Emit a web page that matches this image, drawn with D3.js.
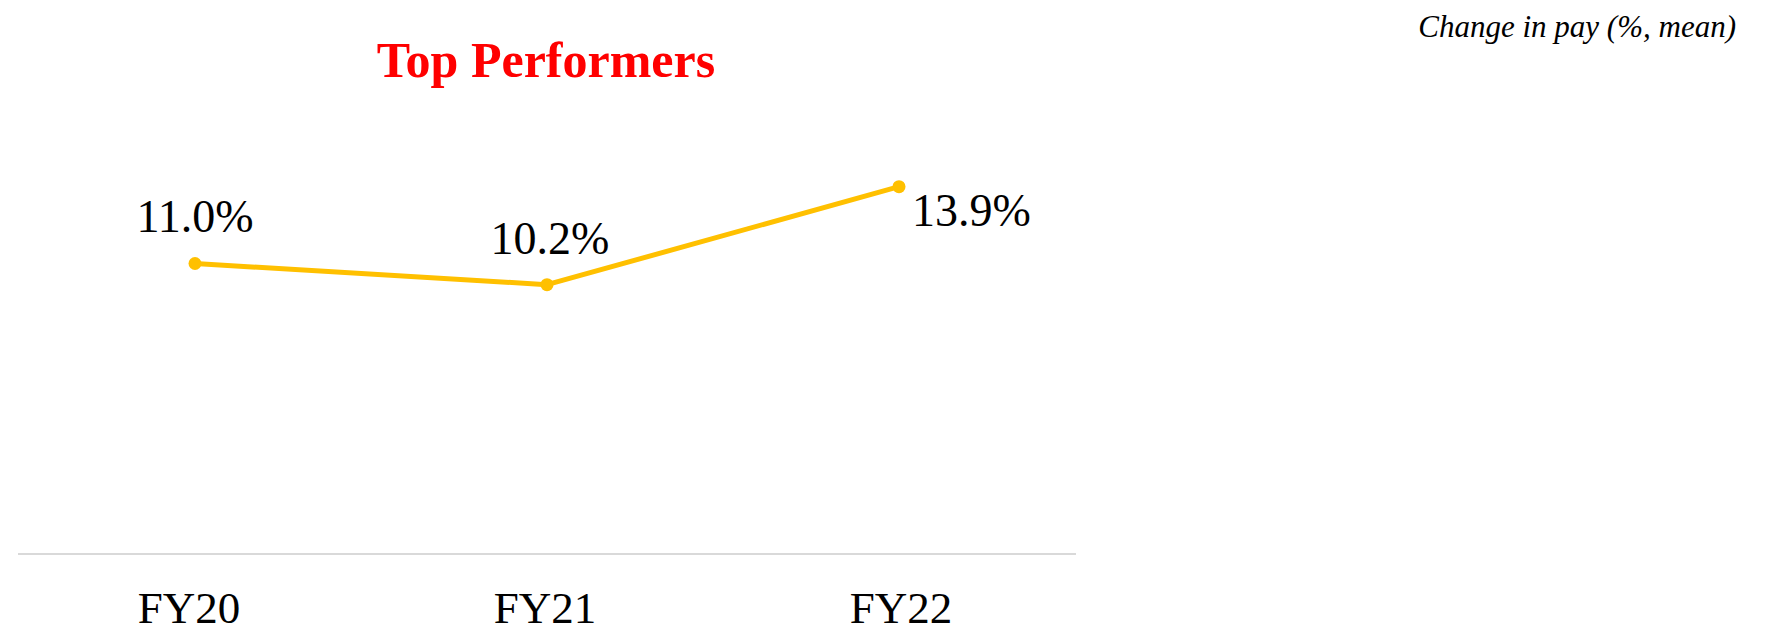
<!DOCTYPE html>
<html>
<head>
<meta charset="utf-8">
<script src="https://cdn.jsdelivr.net/npm/d3@7"></script>
<style>
  html, body { margin: 0; padding: 0; background: #fff; }
  svg { display: block; }
</style>
</head>
<body>
<svg id="chart" width="1767" height="635"></svg>
<script>
const categories = ["FY20", "FY21", "FY22"];
const values = [11.0, 10.2, 13.9];
const valueLabels = ["11.0%", "10.2%", "13.9%"];
const title = "Top Performers";
const subtitle = "Change in pay (%, mean)";

const svg = d3.select("#chart");
const serif = "'Liberation Serif', 'DejaVu Serif', serif";

const x = d3.scalePoint().domain(categories).range([195, 899]);
const xLabel = d3.scalePoint().domain(categories).range([189, 901]);
const y = d3.scaleLinear().domain([0, 20]).range([555, 25]);

// baseline axis
const xAxis = d3.axisBottom(x).tickSize(0).tickPadding(0);
const axisG = svg.append("g").attr("transform", `translate(0,${y(0) - 1})`).call(xAxis);
axisG.select(".domain").remove();
axisG.selectAll("text").remove();
svg.append("line")
  .attr("x1", 18).attr("x2", 1076)
  .attr("y1", y(0) - 1).attr("y2", y(0) - 1)
  .attr("stroke", "#d9d9d9").attr("stroke-width", 2);

// category labels
svg.selectAll("text.cat").data(categories).enter().append("text")
  .attr("class", "cat")
  .attr("x", d => xLabel(d))
  .attr("y", 623)
  .attr("text-anchor", "middle")
  .attr("font-family", serif)
  .attr("font-size", 45)
  .attr("fill", "#000")
  .text(d => d);

// line
const line = d3.line().x((d, i) => x(categories[i])).y(d => y(d));
svg.append("path").datum(values)
  .attr("d", line)
  .attr("fill", "none")
  .attr("stroke", "#FFC000")
  .attr("stroke-width", 5)
  .attr("stroke-linejoin", "round");

svg.selectAll("circle.pt").data(values).enter().append("circle")
  .attr("class", "pt")
  .attr("cx", (d, i) => x(categories[i]))
  .attr("cy", d => y(d))
  .attr("r", 6.5)
  .attr("fill", "#FFC000");

// value labels
const labelPos = [
  { dx: 0, dy: -32, anchor: "middle" },
  { dx: 3, dy: -31, anchor: "middle" },
  { dx: 13, dy: 39, anchor: "start" }
];
svg.selectAll("text.val").data(values).enter().append("text")
  .attr("class", "val")
  .attr("x", (d, i) => x(categories[i]) + labelPos[i].dx)
  .attr("y", (d, i) => y(d) + labelPos[i].dy)
  .attr("text-anchor", (d, i) => labelPos[i].anchor)
  .attr("font-family", serif)
  .attr("font-size", 46)
  .attr("fill", "#000")
  .text((d, i) => valueLabels[i]);

// title
svg.append("text")
  .attr("x", 546).attr("y", 77)
  .attr("text-anchor", "middle")
  .attr("font-family", serif)
  .attr("font-weight", "bold")
  .attr("font-size", 50)
  .attr("fill", "#FF0000")
  .text(title);

// subtitle
svg.append("text")
  .attr("x", 1736).attr("y", 37)
  .attr("text-anchor", "end")
  .attr("font-family", serif)
  .attr("font-style", "italic")
  .attr("font-size", 31)
  .attr("fill", "#000")
  .text(subtitle);
</script>
</body>
</html>
